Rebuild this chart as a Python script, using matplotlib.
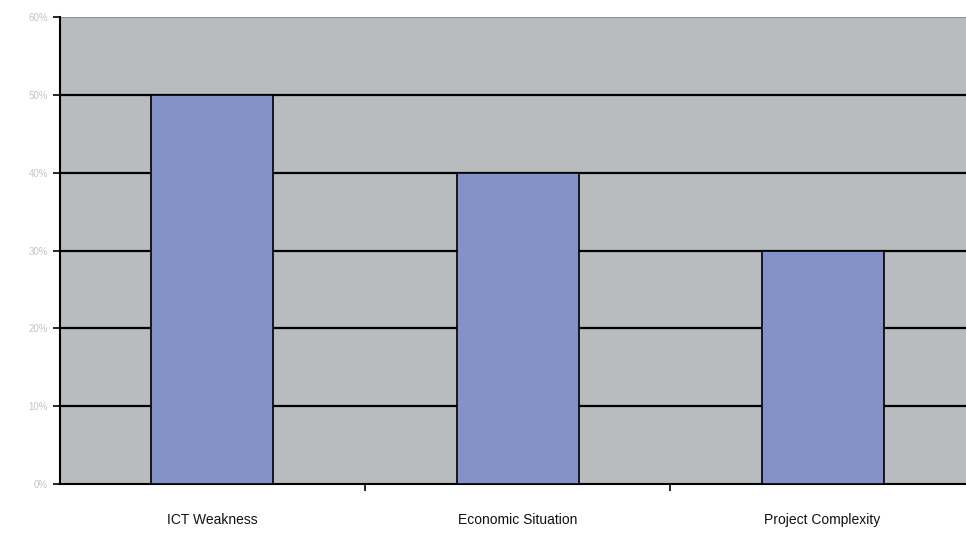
import matplotlib
matplotlib.use("Agg")
import matplotlib.pyplot as plt
import numpy as np

plt.rcParams['font.family'] = ['Liberation Sans', 'DejaVu Sans']

categories = ["ICT Weakness", "Economic Situation", "Project Complexity"]
values = [50, 40, 30]
yticks = [0, 10, 20, 30, 40, 50, 60]

fig = plt.figure(figsize=(9.66, 5.37), dpi=100)
ax = fig.add_axes([0.062, 0.099, 0.938, 0.869])
ax.set_facecolor("#b8bcbe")

x = np.arange(len(categories))
ax.bar(x, values, width=0.4, color="#8393c9", edgecolor="black", linewidth=1.2, zorder=3)

ax.set_ylim(0, 60)
ax.set_xlim(-0.5, 2.47)
ax.set_yticks(yticks)
ax.set_yticklabels([f"{v}%" for v in yticks], color="#c4c4c4", fontsize=7)
for v in yticks[1:-1]:
    ax.axhline(v, color="black", linewidth=1.6, zorder=1)
ax.axhline(60, color="#8e9294", linewidth=1.6, zorder=1)

ax.set_xticks([0.5, 1.5])
ax.set_xticklabels(["", ""])
ax.tick_params(axis="x", direction="out", length=5, width=1.2)
ax.tick_params(axis="y", direction="out", length=5, width=1.2)
for i, c in enumerate(categories):
    ax.text(i, -0.078, c, transform=ax.get_xaxis_transform(), ha="center", va="center",
            fontsize=10, color="#111111")

ax.spines["left"].set_linewidth(1.5)
ax.spines["bottom"].set_linewidth(1.5)
ax.spines["top"].set_visible(False)
ax.spines["right"].set_visible(False)

plt.savefig("out.png", dpi=100)
